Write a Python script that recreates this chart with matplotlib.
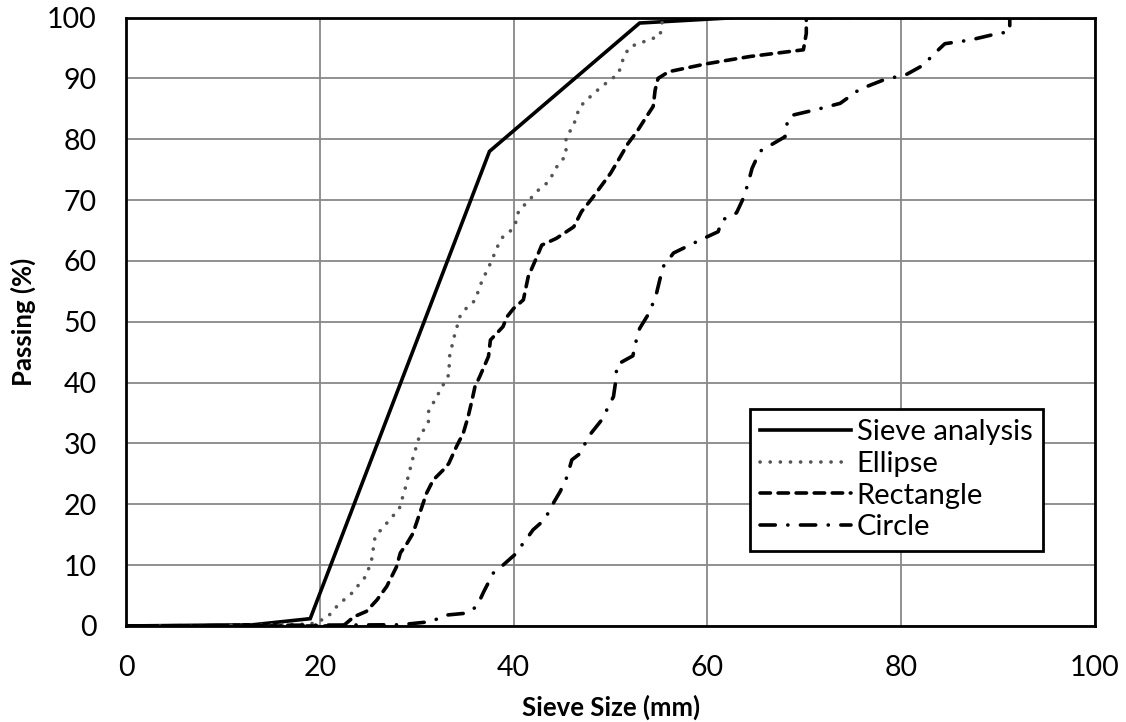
import matplotlib
matplotlib.use("Agg")
import matplotlib.pyplot as plt

plt.rcParams['font.family'] = ['Lato', 'DejaVu Sans']
plt.rcParams['lines.scale_dashes'] = False

# sieve analysis (solid)
sieve_x = [0, 13.1, 19.0, 37.5, 53.0, 63.0, 100]
sieve_y = [0, 0.2, 1.2, 78.0, 99.1, 100, 100]

# ellipse (dotted)
ellipse_x = [3.5, 19.0, 20.7, 21.9, 23.3, 24.7, 25.3, 25.7, 26.9, 28.2, 28.8, 29.6, 30.2,
             31.2, 31.2, 32.2, 33.3, 33.4, 33.9, 34.5, 35.1, 36.0, 36.7, 37.6, 38.4, 38.9,
             39.8, 40.3, 40.5, 41.3, 42.7, 43.6, 44.6, 45.4, 45.4, 46.1, 46.8, 48.3, 49.9,
             50.8, 51.4, 52.0, 53.9, 55.1, 55.4, 100]
ellipse_y = [0, 0.3, 1.3, 3.5, 5.4, 8.1, 10.5, 14.7, 16.9, 19.3, 22.6, 27.6, 30.8,
             33.6, 35.2, 38.1, 41.3, 44.5, 47.8, 51.1, 52.2, 53.5, 56.6, 59.6, 62.6, 64.0,
             65.1, 66.6, 68.2, 69.5, 71.9, 73.0, 75.9, 77.3, 80.5, 81.9, 85.3, 87.6, 89.7,
             90.7, 93.7, 95.2, 96.3, 97.0, 100, 100]

# rectangle (dashed)
rect_x = [0, 22.4, 23.5, 24.8, 25.9, 26.9, 27.9, 28.3, 29.0, 29.6, 30.3, 31.0, 31.7, 32.7,
          33.3, 34.1, 34.8, 35.3, 35.7, 36.0, 36.5, 37.4, 37.6, 38.9, 39.3, 40.0, 41.0,
          41.5, 42.4, 42.9, 44.4, 46.2, 47.0, 48.1, 50.0, 51.0, 51.8, 52.7, 53.7, 54.4,
          54.6, 54.9, 56.0, 59.9, 64.4, 69.9, 70.2, 70.2, 100]
rect_y = [0, 0, 1.5, 2.4, 4.3, 6.5, 9.7, 12.0, 13.6, 15.2, 18.5, 21.8, 24.0, 25.6,
          26.7, 29.5, 31.7, 34.4, 37.1, 39.3, 41.0, 44.3, 47.0, 49.2, 50.8, 52.2, 53.6,
          57.4, 60.7, 62.6, 63.7, 65.6, 68.1, 70.3, 74.4, 77.1, 79.3, 81.2, 83.7, 85.4,
          88.1, 90.0, 91.1, 92.4, 93.6, 94.7, 97.4, 100, 100]

# circle (dash-dot)
circle_x = [0, 28.3, 31.4, 33.1, 35.1, 36.2, 36.9, 37.9, 38.9, 40.1, 41.5, 42.0, 43.2,
            44.1, 44.8, 45.5, 46.0, 46.9, 47.7, 49.1, 50.3, 50.6, 50.6, 52.3, 52.7, 53.0,
            54.0, 54.7, 55.4, 56.5, 59.2, 61.1, 61.5, 63.0, 63.7, 64.2, 64.6, 65.4, 68.0,
            68.3, 68.9, 71.3, 73.7, 75.7, 78.1, 80.6, 82.3, 83.3, 84.5, 87.1, 89.5, 91.2,
            91.2, 100]
circle_y = [0, 0.2, 0.7, 1.8, 2.1, 3.2, 5.6, 8.7, 10.0, 11.7, 14.7, 15.8, 17.5,
            20.2, 22.1, 24.5, 27.3, 28.4, 31.1, 33.9, 37.7, 41.0, 42.9, 44.4, 47.3, 48.9,
            51.5, 54.4, 59.0, 61.3, 63.4, 64.8, 66.7, 67.9, 70.3, 72.8, 75.2, 78.0, 80.4,
            83.4, 84.0, 84.9, 85.9, 88.2, 89.7, 90.7, 92.2, 93.9, 95.7, 96.3, 97.2, 97.7,
            100, 100]

fig = plt.figure(figsize=(11.26, 7.22), dpi=100)
ax = fig.add_axes([0.112, 0.133, 0.8605, 0.8427])

ax.plot(sieve_x, sieve_y, color='black', lw=2.6, label='Sieve analysis',
        solid_joinstyle='miter')
ax.plot(ellipse_x, ellipse_y, color='#555555', lw=2.6, linestyle=(0, (0.1, 7.2)),
        dash_capstyle='round', label='Ellipse')
ax.plot(rect_x, rect_y, color='black', lw=2.6, linestyle=(0, (7.5, 5.5)),
        dash_capstyle='round', label='Rectangle')
ax.plot(circle_x, circle_y, color='black', lw=2.6, linestyle=(0, (11, 9, 0.1, 9)),
        dash_capstyle='round', label='Circle')

ax.set_xlim(0, 100)
ax.set_ylim(0, 100)
ax.set_xticks(range(0, 101, 20))
ax.set_yticks(range(0, 101, 10))
ax.tick_params(length=0, labelsize=20.5, pad=21)
ax.grid(True, color='#888888', lw=1.3)
ax.set_axisbelow(True)
for side in ax.spines.values():
    side.set_color('black')
    side.set_linewidth(2.0)

ax.set_xlabel('Sieve Size (mm)', fontsize=18.5, fontweight='bold', labelpad=10)
ax.set_ylabel('Passing (%)', fontsize=18.5, fontweight='bold', labelpad=8)

leg = ax.legend(loc='upper left', bbox_to_anchor=(0.644, 0.357), fontsize=21,
                handlelength=3.1, handletextpad=0.2, borderpad=0.35, labelspacing=0.2,
                fancybox=False, framealpha=1, edgecolor='black', borderaxespad=0)
leg.get_frame().set_linewidth(2.0)

fig.savefig('out.png', dpi=100)
